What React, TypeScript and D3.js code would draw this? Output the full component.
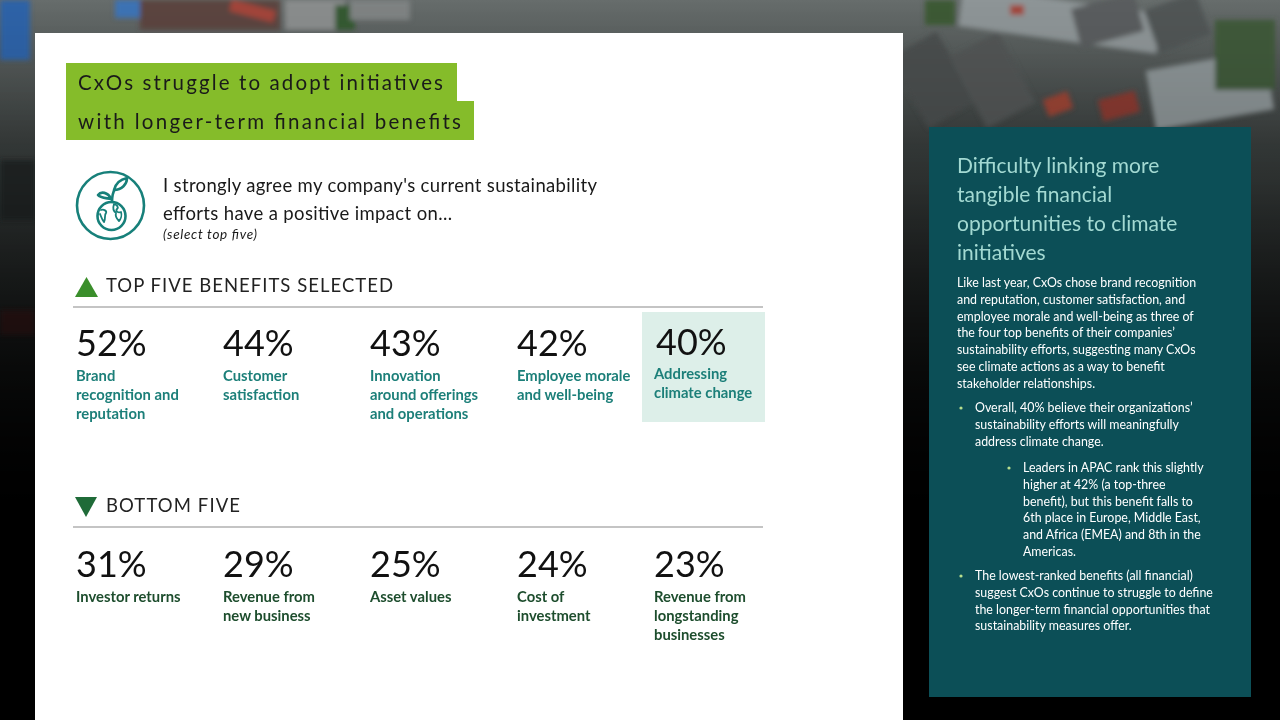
import * as React from 'react';
import * as d3 from 'd3';

const titleLines = ['CxOs struggle to adopt initiatives', 'with longer-term financial benefits'];
const questionLines = ["I strongly agree my company's current sustainability", 'efforts have a positive impact on...'];
const questionNote = '(select top five)';

const topHeading = 'TOP FIVE BENEFITS SELECTED';
const topValues = [52, 44, 43, 42, 40];
const topLabels = [
  ['Brand', 'recognition and', 'reputation'],
  ['Customer', 'satisfaction'],
  ['Innovation', 'around offerings', 'and operations'],
  ['Employee morale', 'and well-being'],
  ['Addressing', 'climate change'],
];
const highlightIndex = 4;

const bottomHeading = 'BOTTOM FIVE';
const bottomValues = [31, 29, 25, 24, 23];
const bottomLabels = [
  ['Investor returns'],
  ['Revenue from', 'new business'],
  ['Asset values'],
  ['Cost of', 'investment'],
  ['Revenue from', 'longstanding', 'businesses'],
];

const panelHeading = ['Difficulty linking more', 'tangible financial', 'opportunities to climate', 'initiatives'];
const panelIntro = [
  'Like last year, CxOs chose brand recognition',
  'and reputation, customer satisfaction, and',
  'employee morale and well-being as three of',
  'the four top benefits of their companies\u2019',
  'sustainability efforts, suggesting many CxOs',
  'see climate actions as a way to benefit',
  'stakeholder relationships.',
];
const panelBullets = [
  { level: 0, lines: ['Overall, 40% believe their organizations\u2019', 'sustainability efforts will meaningfully', 'address climate change.'] },
  { level: 1, lines: ['Leaders in APAC rank this slightly', 'higher at 42% (a top-three', 'benefit), but this benefit falls to', '6th place in Europe, Middle East,', 'and Africa (EMEA) and 8th in the', 'Americas.'] },
  { level: 0, lines: ['The lowest-ranked benefits (all financial)', 'suggest CxOs continue to struggle to define', 'the longer-term financial opportunities that', 'sustainability measures offer.'] },
];

const W = 1280;
const H = 720;
const FONT = 'Lato, "Open Sans", sans-serif';

// columns of the stat rows
const col = d3.scalePoint<number>().domain(d3.range(5)).range([76, 664]);
const colX = (i: number) => col(i)! - (i === highlightIndex ? 10 : 0);

function StatRow({ values, labels, y, labelColor, highlight }) {
  const lh = 19;
  return (
    <g>
      {values.map((v, i) => {
        const hl = i === highlight;
        const x = colX(i);
        return (
          <g key={i}>
            {hl && <rect x={x - 12} y={y - 44} width={123} height={110} fill="#ddefe9" />}
            <text x={x + (hl ? 2 : 0)} y={y - (hl ? 1 : 0)} fontSize={36} fontWeight={400} fill="#111">
              {d3.format('d')(v)}%
            </text>
            {labels[i].map((t, j) => (
              <text key={j} x={x} y={y + 25 + j * lh - (hl ? 2 : 0)} fontSize={14.8} fontWeight={700} fill={labelColor}>
                {t}
              </text>
            ))}
          </g>
        );
      })}
    </g>
  );
}

function SectionHead({ y, label, up, color, len }) {
  const tri = up
    ? `M75,${y + 5} L86.5,${y - 15} L98,${y + 5} Z`
    : `M75,${y - 15} L97,${y - 15} L86,${y + 5} Z`;
  return (
    <g>
      <path d={tri} fill={color} />
      <text x={106} y={y} fontSize={18.5} fill="#222" textLength={len} lengthAdjust="spacing">
        {label}
      </text>
      <line x1={73} x2={763} y1={y + 15} y2={y + 15} stroke="#c4c4c4" strokeWidth={2} />
    </g>
  );
}

function Icon() {
  const c = '#17807a';
  return (
    <g fill="none" stroke={c} strokeWidth={2.6} strokeLinecap="round" strokeLinejoin="round">
      <circle cx={110.5} cy={205.5} r={33.5} />
      <circle cx={111.5} cy={216} r={14} />
      <path d="M112,202 C112,196 113,192 115,189" />
      <path d="M114,190 C116,182 122,179 127,178 C127,184 122,190 114,190 Z" />
      <path d="M111,199 C106,198 100,198 98,195 C101,191 108,192 111,199 Z" />
      <g strokeWidth={1.8}>
        <path d="M101,210 C104,209 107,211 106,213 C104,215 106,218 104,222 C102,220 101,216 100,214" />
        <path d="M114,204 C117,205 119,207 117,209 C115,211 118,213 121,212 C122,215 121,219 119,221 C117,219 115,216 116,213 C113,211 113,207 114,204 Z" />
      </g>
    </g>
  );
}

function Background() {
  // rough stand-in for the aerial photograph behind the slide
  const blocks = [
    { x: 960, y: 0, w: 200, h: 40, c: '#8e9597', r: 8 },
    { x: 1150, y: 60, w: 120, h: 60, c: '#8c9496', r: -10 },
    { x: 905, y: 40, w: 55, h: 80, c: '#4b4f4f', r: -30 },
    { x: 965, y: 40, w: 55, h: 80, c: '#525656', r: -28 },
    { x: 1075, y: 0, w: 65, h: 40, c: '#5a5d5e', r: -15 },
    { x: 1150, y: 0, w: 55, h: 45, c: '#515657', r: -20 },
    { x: 1100, y: 95, w: 38, h: 22, c: '#8a3b33', r: -15 },
    { x: 1045, y: 95, w: 26, h: 18, c: '#9b4436', r: -20 },
    { x: 1010, y: 5, w: 14, h: 10, c: '#a2473a', r: 0 },
    { x: 1215, y: 20, w: 60, h: 70, c: '#3f5a3a', r: 0 },
    { x: 925, y: 0, w: 30, h: 25, c: '#3c5a36', r: 0 },
    { x: 140, y: 0, w: 140, h: 30, c: '#5c4440', r: 0 },
    { x: 285, y: 0, w: 60, h: 30, c: '#8a8d8d', r: 0 },
    { x: 0, y: 0, w: 30, h: 60, c: '#2f63a8', r: 0 },
    { x: 115, y: 0, w: 25, h: 18, c: '#3d73b5', r: 0 },
    { x: 230, y: 5, w: 45, h: 12, c: '#a3453a', r: 15 },
    { x: 335, y: 5, w: 20, h: 25, c: '#345a30', r: 0 },
    { x: 350, y: 0, w: 60, h: 20, c: '#7f8383', r: 0 },
    { x: 0, y: 160, w: 35, h: 60, c: '#242828', r: 0 },
    { x: 0, y: 310, w: 35, h: 25, c: '#3a1e1c', r: 0 },
  ];
  return (
    <g>
      <defs>
        <linearGradient id="bg" x1="0" y1="0" x2="0" y2="1">
          <stop offset="0" stopColor="#676d6c" />
          <stop offset="0.2" stopColor="#3a3f3e" />
          <stop offset="0.55" stopColor="#131515" />
          <stop offset="0.8" stopColor="#000" />
        </linearGradient>
        <linearGradient id="fade" x1="0" y1="0" x2="0" y2="1">
          <stop offset="0" stopColor="#000" stopOpacity={0} />
          <stop offset="0.25" stopColor="#000" stopOpacity={0.15} />
          <stop offset="0.75" stopColor="#000" stopOpacity={1} />
        </linearGradient>
        <filter id="soft">
          <feGaussianBlur stdDeviation={2.5} />
        </filter>
      </defs>
      <rect width={W} height={H} fill="url(#bg)" />
      <g filter="url(#soft)">
        {blocks.map((b, i) => (
          <rect key={i} x={b.x} y={b.y} width={b.w} height={b.h} fill={b.c}
            transform={`rotate(${b.r},${b.x + b.w / 2},${b.y + b.h / 2})`} />
        ))}
      </g>
      <rect width={W} height={H} fill="url(#fade)" />
    </g>
  );
}

export default function App() {
  return (
    <div style={{ position: 'fixed', left: 0, top: 0, width: W, height: H, overflow: 'hidden' }}>
      <svg width={W} height={H} fontFamily={FONT} style={{ display: 'block' }}>
        <Background />
        <rect x={35} y={33} width={868} height={H - 33} fill="#fff" />

        {/* title */}
        <rect x={66} y={63} width={391} height={39} fill="#85bc2a" />
        <rect x={66} y={101} width={408} height={39} fill="#85bc2a" />
        <text x={78} y={90} fontSize={20.5} fill="#1a1a1a" textLength={365} lengthAdjust="spacing">{titleLines[0]}</text>
        <text x={78} y={129} fontSize={20.5} fill="#1a1a1a" textLength={383} lengthAdjust="spacing">{titleLines[1]}</text>

        <Icon />
        <text x={163} y={192} fontSize={18.5} fill="#1a1a1a" textLength={434} lengthAdjust="spacing">{questionLines[0]}</text>
        <text x={163} y={220} fontSize={18.5} fill="#1a1a1a" textLength={289} lengthAdjust="spacing">{questionLines[1]}</text>
        <text x={163} y={239} fontSize={13.5} fontStyle="italic" fill="#1a1a1a" textLength={94} lengthAdjust="spacing">{questionNote}</text>

        <SectionHead y={292} label={topHeading} up color="#3a8e2b" len={287} />
        <StatRow values={topValues} labels={topLabels} y={356} labelColor="#1c7f79" highlight={highlightIndex} />

        <SectionHead y={512} label={bottomHeading} up={false} color="#1f6b38" len={134} />
        <StatRow values={bottomValues} labels={bottomLabels} y={577} labelColor="#1d4d2d" highlight={-1} />

        {/* right panel */}
        <rect x={929} y={127} width={322} height={570} fill="#0c4f57" />
        {panelHeading.map((t, i) => (
          <text key={i} x={957} y={173 + i * 29} fontSize={21} fill="#a3d9d2">{t}</text>
        ))}
        {panelIntro.map((t, i) => (
          <text key={i} x={957} y={287 + i * 16.8} fontSize={12.4} fill="#fff">{t}</text>
        ))}
        {panelBullets.map((b, bi) => {
          const startY = [412, 472, 580][bi];
          const bx = b.level === 0 ? 959 : 1007;
          const tx = b.level === 0 ? 975 : 1023;
          return (
            <g key={bi}>
              <circle cx={bx + 2} cy={startY - 4} r={1.6} fill="#b9df8e" />
              {b.lines.map((t, i) => (
                <text key={i} x={tx} y={startY + i * 16.8} fontSize={12.4} fill="#fff">{t}</text>
              ))}
            </g>
          );
        })}
      </svg>
    </div>
  );
}
